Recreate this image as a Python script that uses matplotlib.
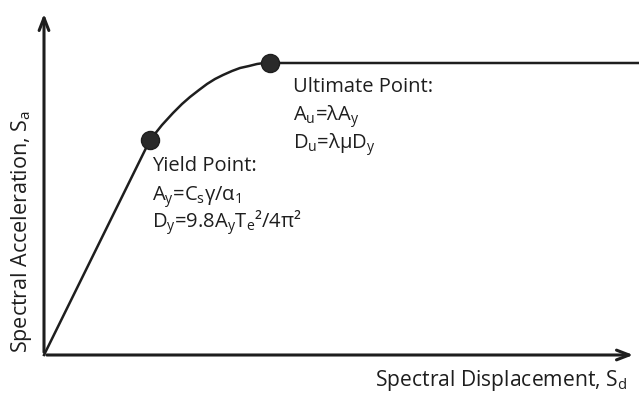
import matplotlib
matplotlib.use('Agg')
import matplotlib.pyplot as plt

plt.rcParams['font.family'] = ['Open Sans', 'DejaVu Sans']
plt.rcParams['mathtext.default'] = 'regular'

# capacity curve: displacement / acceleration (drawing units)
sd = [0, 106, 118, 129, 138, 146, 155, 163, 171, 179, 188, 196, 205, 213, 220, 226, 595]
sa = [0, 215, 230, 242, 251, 258, 265, 271, 276, 280, 284, 287, 289, 291, 292, 292, 292]

# yield and ultimate points
yield_pt = (106, 215)
ult_pt = (226, 292)

ink = '#1e1e1e'

fig = plt.figure(figsize=(6.39, 3.93), dpi=100)
ax = fig.add_axes([0, 0, 1, 1])
ax.set_xlim(-44, 595)
ax.set_ylim(-38, 355)
ax.axis('off')

# axes with arrow heads
ax.annotate('', xy=(592, 0), xytext=(0, 0),
            arrowprops=dict(arrowstyle='->,head_length=0.9,head_width=0.35', lw=2.2, color=ink))
ax.annotate('', xy=(0, 344), xytext=(0, 0),
            arrowprops=dict(arrowstyle='->,head_length=0.9,head_width=0.35', lw=2.2, color=ink))

ax.plot(sd, sa, color=ink, lw=1.8, solid_joinstyle='round')
ax.plot(*yield_pt, 'o', ms=13, color='#2a2a2a', mec=ink)
ax.plot(*ult_pt, 'o', ms=13, color='#2a2a2a', mec=ink)

fs = 14.5
ax.text(249, 263, 'Ultimate Point:', fontsize=fs, color=ink)
ax.text(249, 234, 'A$_u$=λA$_y$', fontsize=fs, color=ink)
ax.text(249, 206, 'D$_u$=λμD$_y$', fontsize=fs, color=ink)

ax.text(108, 184, 'Yield Point:', fontsize=fs, color=ink)
ax.text(108, 154, 'A$_y$=C$_s$γ/α$_1$', fontsize=fs, color=ink)
ax.text(108, 127, 'D$_y$=9.8A$_y$T$_e$²/4π²', fontsize=fs, color=ink)

ax.text(331, -31, 'Spectral Displacement, S$_d$', fontsize=15.2, color=ink)
ax.text(-22, 123, 'Spectral Acceleration, S$_a$', fontsize=15.5, color=ink,
        rotation=90, ha='center', va='center')

fig.savefig('out.png', dpi=100)
